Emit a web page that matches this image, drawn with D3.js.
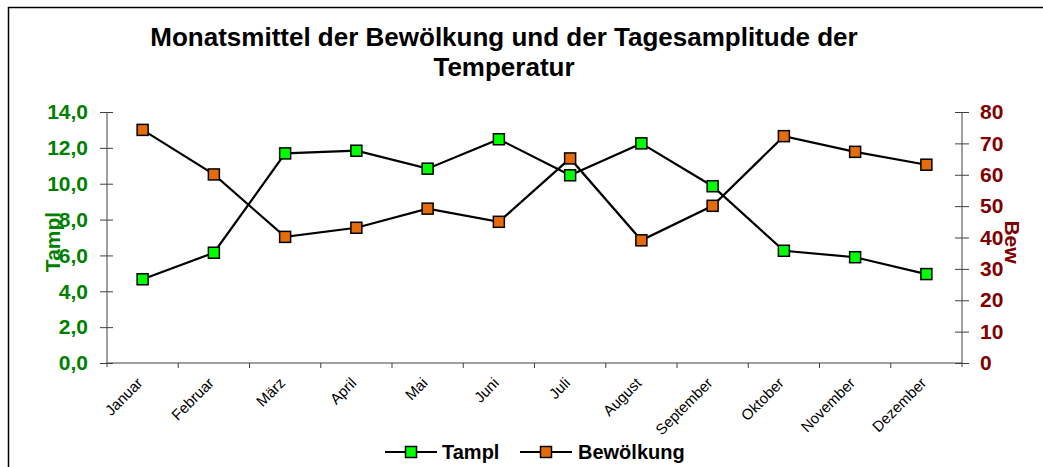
<!DOCTYPE html>
<html><head><meta charset="utf-8">
<script src="https://cdn.jsdelivr.net/npm/d3@7"></script>
<style>body{margin:0;background:#fff}svg{display:block;font-family:"Liberation Sans",Arial,sans-serif}</style>
</head><body>
<svg id="c" width="1043" height="467"></svg>
<script>
const months = ["Januar","Februar","März","April","Mai","Juni","Juli","August","September","Oktober","November","Dezember"];
const tampl = [4.67,6.15,11.69,11.84,10.84,12.48,10.47,12.25,9.86,6.26,5.90,4.96];
const bewoelkung = [74.3,60.1,40.2,43.1,49.2,45.0,65.2,39.1,50.1,72.3,67.3,63.2];
const leftTicks = [0,2,4,6,8,10,12,14];
const rightTicks = [0,10,20,30,40,50,60,70,80];
const titleLines = ["Monatsmittel der Bewölkung und der Tagesamplitude der","Temperatur"];

const svg = d3.select("#c");
const L = 107, R = 962, T = 112, B = 363;
const green = "#008000", darkred = "#800000", axisCol = "#404040";

// outer frame
svg.append("rect").attr("x",8.5).attr("y",7.5).attr("width",1100).attr("height",600)
  .attr("fill","none").attr("stroke","#000").attr("stroke-width",1.5);

const x = d3.scaleBand().domain(months).range([L,R]).padding(0);
const yL = d3.scaleLinear().domain([0,14]).range([B,T]);
const yR = d3.scaleLinear().domain([0,80]).range([B,T]);

// title
svg.append("g").selectAll("text").data(titleLines).join("text")
  .attr("x",504).attr("y",(d,i)=>46+i*30).attr("text-anchor","middle")
  .attr("font-size",26).attr("font-weight","bold").attr("fill","#000").text(d=>d);

// left axis
const gL = svg.append("g").attr("transform",`translate(${L},0)`)
  .call(d3.axisLeft(yL).tickValues(leftTicks).tickSize(7).tickFormat(d=>d3.format(".1f")(d).replace(".",",")));
gL.select(".domain").remove();
gL.append("line").attr("y1",T).attr("y2",B+4).attr("stroke",axisCol);
gL.selectAll(".tick line").attr("stroke",axisCol).attr("x2",6).attr("x1",-7);
gL.selectAll(".tick text").attr("x",-19).attr("fill",green).attr("font-size",21).attr("font-weight","bold").attr("font-family","Liberation Sans, Arial, sans-serif");

// right axis
const gR = svg.append("g").attr("transform",`translate(${R},0)`)
  .call(d3.axisRight(yR).tickValues(rightTicks).tickSize(7));
gR.select(".domain").remove();
gR.append("line").attr("y1",T).attr("y2",B+4).attr("stroke",axisCol);
gR.selectAll(".tick line").attr("stroke",axisCol).attr("x1",-7).attr("x2",7);
gR.selectAll(".tick text").attr("x",18).attr("fill",darkred).attr("font-size",21).attr("font-weight","bold").attr("font-family","Liberation Sans, Arial, sans-serif");

// x axis
svg.append("line").attr("x1",L).attr("x2",R).attr("y1",B).attr("y2",B).attr("stroke",axisCol);
svg.append("g").selectAll("line").data(months.slice(1)).join("line")
  .attr("x1",d=>x(d)).attr("x2",d=>x(d)).attr("y1",B).attr("y2",B+5).attr("stroke",axisCol);
svg.append("g").selectAll("text").data(months).join("text")
  .attr("transform",d=>`translate(${x(d)+x.bandwidth()/2+1},384) rotate(-45)`)
  .attr("text-anchor","end").attr("font-size",15).attr("fill","#000").text(d=>d);

// axis titles
svg.append("text").attr("transform","translate(60,242) rotate(-90)").attr("text-anchor","middle")
  .attr("font-size",21).attr("font-weight","bold").attr("fill",green).text("Tampl");
svg.append("text").attr("transform","translate(1005,242) rotate(90)").attr("text-anchor","middle")
  .attr("font-size",21).attr("font-weight","bold").attr("fill",darkred).text("Bew");

const cx = d => x(d)+x.bandwidth()/2;
const series = [
  {name:"Tampl", vals:tampl, y:yL, fill:"#00ff00"},
  {name:"Bewölkung", vals:bewoelkung, y:yR, fill:"#e46c0a"}
];
const ms = 11;
series.forEach(s=>{
  const line = d3.line().x((v,i)=>cx(months[i])).y(v=>s.y(v));
  svg.append("path").attr("d",line(s.vals)).attr("fill","none").attr("stroke","#000").attr("stroke-width",2.2);
});
series.forEach(s=>{
  svg.append("g").selectAll("rect").data(s.vals).join("rect")
    .attr("x",(v,i)=>cx(months[i])-ms/2).attr("y",v=>s.y(v)-ms/2).attr("width",ms).attr("height",ms)
    .attr("fill",s.fill).attr("stroke","#000").attr("stroke-width",1.5);
});

// legend
const leg = [{name:"Tampl",fill:"#00ff00",x0:385,tx:442},{name:"Bewölkung",fill:"#e46c0a",x0:520,tx:578}];
const lg = svg.append("g");
leg.forEach(d=>{
  lg.append("line").attr("x1",d.x0).attr("x2",d.x0+52).attr("y1",452).attr("y2",452).attr("stroke","#000").attr("stroke-width",2.2);
  lg.append("rect").attr("x",d.x0+26-ms/2).attr("y",452-ms/2).attr("width",ms).attr("height",ms).attr("fill",d.fill).attr("stroke","#000").attr("stroke-width",1.5);
  lg.append("text").attr("x",d.tx).attr("y",459).attr("font-size",20).attr("font-weight","bold").attr("fill","#000").text(d.name);
});
</script>
</body></html>
